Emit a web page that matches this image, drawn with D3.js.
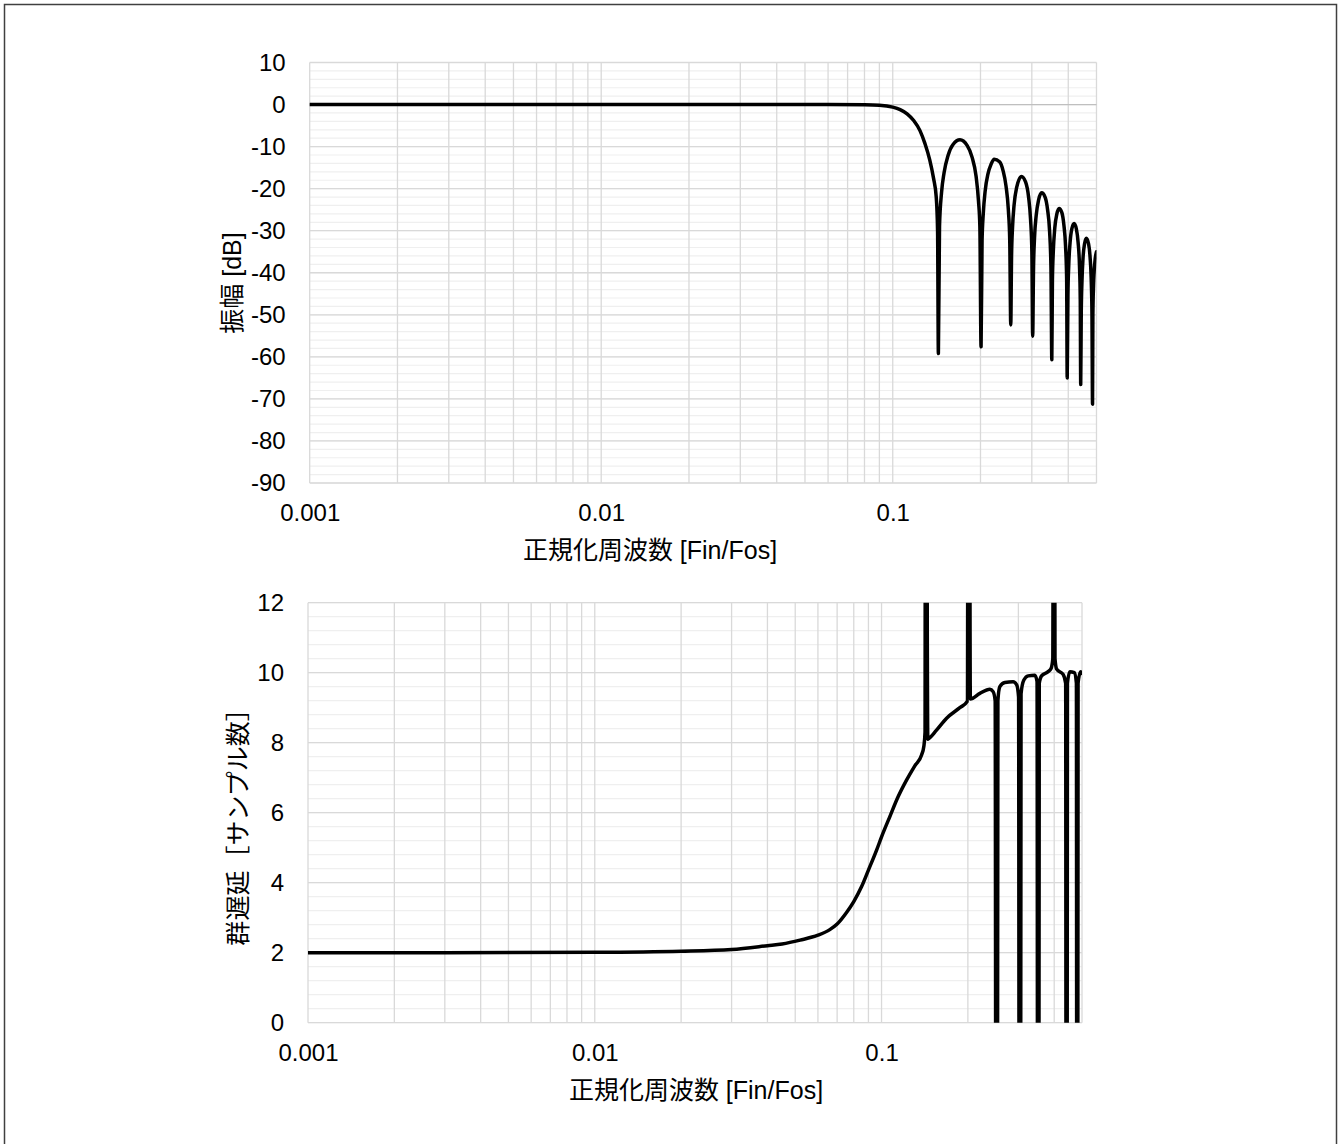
<!DOCTYPE html>
<html>
<head>
<meta charset="utf-8">
<script src="https://cdn.jsdelivr.net/npm/d3@7"></script>
<style>
  body { margin: 0; background: #fff; }
  svg { display: block; }
  text { font-family: "Liberation Sans", Arial, "Noto Sans CJK JP", sans-serif; fill: #000; }
</style>
</head>
<body>
<svg width="1341" height="1144"></svg>
<script>
/* global d3 */

// Tick labels shared by both panels
const freqTicks = [0.001, 0.01, 0.1];
const magTicks = [10, 0, -10, -20, -30, -40, -50, -60, -70, -80, -90];
const delayTicks = [0, 2, 4, 6, 8, 10, 12];

// Amplitude response (normalized frequency, dB)
const magFreq = [
  0.001, 0.01, 0.03, 0.06, 0.08, 0.09, 0.1, 0.106, 0.112, 0.118, 0.124, 0.129, 0.134, 0.138, 0.141, 0.1425, 0.1434,
  0.1447, 0.147, 0.15, 0.1548, 0.161, 0.1701, 0.1799, 0.1871, 0.1931, 0.1969, 0.199, 0.2009,
  0.2025, 0.2045, 0.2074, 0.2123, 0.2174, 0.2228, 0.2325, 0.239, 0.2447, 0.2492, 0.252, 0.254,
  0.2556, 0.2576, 0.2607, 0.2659, 0.2765, 0.2855, 0.2924, 0.297, 0.3001, 0.302,
  0.3041, 0.3065, 0.3106, 0.3164, 0.3242, 0.3331, 0.3396, 0.3451, 0.3489, 0.3513,
  0.353, 0.3555, 0.3597, 0.3656, 0.372, 0.3803, 0.3864, 0.3916, 0.395, 0.3967,
  0.399, 0.4016, 0.4057, 0.4116, 0.419, 0.4265, 0.4323, 0.4371, 0.4398, 0.4414,
  0.4433, 0.4458, 0.4496, 0.455, 0.4614, 0.4696, 0.4752, 0.4801, 0.4824, 0.4846,
  0.4859, 0.4885, 0.4936, 0.5,
];
const magDb = [
  0, 0, 0, 0, -0.05, -0.15, -0.6, -1.2, -2.2, -3.8, -6.2, -9.3, -13.2, -17.5, -22, -30, -59.2,
  -29, -21, -16.2, -12.1, -9.5, -8.4, -9.7, -12.5, -17, -23, -29, -57.6,
  -32.4, -25.8, -20.7, -16.4, -14.2, -13.0, -13.6, -15.7, -19.4, -25, -32.4, -52.4,
  -36, -29.2, -24, -19.8, -17.1, -18.4, -22, -27.3, -35, -55.1,
  -38.6, -31.6, -26.3, -22.7, -21, -22, -24.9, -30, -38.7, -60.7,
  -41.7, -34.9, -29.3, -26, -24.7, -25.7, -28.6, -33.7, -41.7, -65,
  -45.3, -38.2, -32.9, -29.5, -28.3, -29.6, -32.7, -38.3, -46.3, -66.6,
  -49.3, -42, -36.4, -33.1, -31.8, -33.1, -36.2, -42.8, -49.8, -71.3,
  -50, -43, -37.5, -35,
];

// Group delay (normalized frequency, samples)
// spikes run off the plot area and are clipped like the original
const delayFreq = [
  0.001, 0.003, 0.01, 0.02, 0.03, 0.04, 0.045, 0.052, 0.06, 0.066, 0.07, 0.0755, 0.08, 0.0852, 0.09, 0.0961,
  0.1, 0.1069, 0.1143, 0.1222, 0.1306, 0.1379, 0.1404, 0.1418, 0.1424, 0.145, 0.1462, 0.1555, 0.1686, 0.1875,
  0.199, 0.2016, 0.204, 0.2202, 0.2386, 0.2449, 0.249, 0.2518, 0.2545, 0.2585, 0.2692, 0.2876, 0.296, 0.3005,
  0.3035, 0.3065, 0.3135, 0.3246, 0.3423, 0.3485, 0.3516, 0.3548, 0.3614, 0.3809, 0.39, 0.3955, 0.3989, 0.4025,
  0.408, 0.4297, 0.4385, 0.4416, 0.4448, 0.4535, 0.47, 0.478, 0.4809, 0.4845, 0.4941, 0.5,
];
const delaySamples = [
  2, 2, 2.01, 2.04, 2.09, 2.2, 2.25, 2.36, 2.5, 2.66, 2.82, 3.15, 3.46, 3.89, 4.36, 4.93,
  5.31, 5.89, 6.46, 6.93, 7.34, 7.65, 7.89, 8.3, 30, 8.1, 8.12, 8.36, 8.7, 9.0,
  9.18, 30, 9.25, 9.41, 9.53, 9.46, 9.2, -30, 9.2, 9.6, 9.72, 9.74, 9.65, 9.3,
  -30, 9.4, 9.79, 9.91, 9.93, 9.75, -30, 9.7, 9.91, 10.03, 10.12, 10.4, 30, 10.4,
  10.1, 9.95, 9.7, -30, 9.7, 10.03, 10.0, 9.7, -30, 9.7, 10.03, 9.98,
];

const svg = d3.select('svg');
const tickSize = 24;
const titleSize = 25;

// Chart area border
svg.append('rect')
  .attr('x', 4.5)
  .attr('y', 4.5)
  .attr('width', 1332)
  .attr('height', 1150)
  .attr('fill', '#fff')
  .attr('stroke', '#404040')
  .attr('stroke-width', 1.5);

function drawPanel(p) {
  const x = d3.scaleLog().domain([0.001, 0.5]).range([p.left, p.right]);
  const y = d3.scaleLinear().domain(p.yDomain).range([p.bottom, p.top]);
  const g = svg.append('g');

  // Minor horizontal gridlines
  const minor = d3.range(p.yDomain[0], p.yDomain[1] + 1e-9, p.yMinorStep);
  g.append('g').selectAll('line')
    .data(minor)
    .join('line')
    .attr('x1', p.left)
    .attr('x2', p.right)
    .attr('y1', (d) => y(d))
    .attr('y2', (d) => y(d))
    .attr('stroke', '#efefef')
    .attr('stroke-width', 1.2);

  // Vertical gridlines at 1..9 of every decade
  g.append('g').selectAll('line')
    .data(x.ticks())
    .join('line')
    .attr('x1', (d) => x(d))
    .attr('x2', (d) => x(d))
    .attr('y1', p.top)
    .attr('y2', p.bottom)
    .attr('stroke', '#d9d9d9')
    .attr('stroke-width', 1.3);

  // Major horizontal gridlines
  g.append('g').selectAll('line')
    .data(p.yTicks)
    .join('line')
    .attr('x1', p.left)
    .attr('x2', p.right)
    .attr('y1', (d) => y(d))
    .attr('y2', (d) => y(d))
    .attr('stroke', (d) => (d === 0 && p.zeroAxis ? '#bfbfbf' : '#d9d9d9'))
    .attr('stroke-width', 1.3);

  // Axes (labels only), plain hyphen minus like the original
  const yAxis = g.append('g')
    .attr('transform', `translate(${p.left}, 0)`)
    .call(d3.axisLeft(y).tickValues(p.yTicks).tickSize(0).tickPadding(24)
      .tickFormat((d) => String(d)));
  const xAxis = g.append('g')
    .attr('transform', `translate(0, ${p.bottom})`)
    .call(d3.axisBottom(x).tickValues(freqTicks).tickSize(0).tickPadding(21)
      .tickFormat((d) => String(d)));
  [yAxis, xAxis].forEach((a) => {
    a.select('.domain').remove();
    a.attr('font-size', null).attr('font-family', null);
    a.selectAll('text').style('font-size', `${tickSize}px`).attr('fill', '#000');
  });

  // Axis titles
  g.append('text')
    .attr('x', p.xTitleX)
    .attr('y', p.xTitleY)
    .attr('text-anchor', 'middle')
    .style('font-size', `${titleSize}px`)
    .text('正規化周波数 [Fin/Fos]');

  g.append('text')
    .attr('transform', `translate(${p.yTitleX}, ${p.yTitleY}) rotate(-90)`)
    .attr('text-anchor', 'middle')
    .attr('dy', '0.35em')
    .style('font-size', `${titleSize}px`)
    .text(p.yTitle);

  // Curve, clipped to the plot area
  const clipId = `clip-${p.id}`;
  svg.append('clipPath')
    .attr('id', clipId)
    .append('rect')
    .attr('x', p.left)
    .attr('y', p.top)
    .attr('width', p.right - p.left)
    .attr('height', p.bottom - p.top);

  const points = p.freqs.map((f, i) => [f, p.values[i]]);
  const line = d3.line()
    .x((d) => x(d[0]))
    .y((d) => y(d[1]))
    .curve(d3.curveMonotoneX);

  g.append('path')
    .datum(points)
    .attr('clip-path', `url(#${clipId})`)
    .attr('d', line)
    .attr('fill', 'none')
    .attr('stroke', '#000')
    .attr('stroke-width', 3.5)
    .attr('stroke-linejoin', 'round')
    .attr('stroke-linecap', 'round');
}

drawPanel({
  id: 'mag',
  left: 309.7,
  right: 1096.5,
  top: 62.5,
  bottom: 483,
  yDomain: [-90, 10],
  yTicks: magTicks,
  yMinorStep: 2,
  zeroAxis: true,
  freqs: magFreq,
  values: magDb,
  xTitleX: 650,
  xTitleY: 559,
  yTitle: '振幅 [dB]',
  yTitleX: 232,
  yTitleY: 283,
});

drawPanel({
  id: 'delay',
  left: 308,
  right: 1082,
  top: 602.7,
  bottom: 1022.7,
  yDomain: [0, 12],
  yTicks: delayTicks,
  yMinorStep: 0.4,
  zeroAxis: false,
  freqs: delayFreq,
  values: delaySamples,
  xTitleX: 696,
  xTitleY: 1099,
  yTitle: '群遅延［サンプル数］',
  yTitleX: 238,
  yTitleY: 821,
});
</script>
</body>
</html>
